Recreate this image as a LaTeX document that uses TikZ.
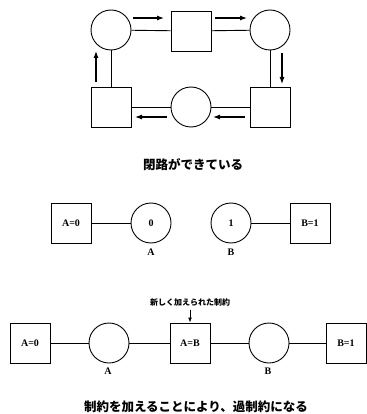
\documentclass[tikz,border=0pt]{standalone}
\usepackage{fontspec}
\setmainfont{Liberation Serif}
\newfontfamily\jpfont{Noto Sans CJK JP}
\usetikzlibrary{arrows.meta}
\begin{document}
\begin{tikzpicture}[x=1pt,y=-1pt,
  line width=0.9pt,
  var/.style={draw,circle,minimum size=40pt,inner sep=0pt,font=\bfseries\fontsize{10}{10}\selectfont},
  con/.style={draw,rectangle,minimum width=40pt,minimum height=40pt,inner sep=0pt,font=\bfseries\fontsize{10}{10}\selectfont},
  lbl/.style={font=\bfseries\fontsize{10}{10}\selectfont},
  captext/.style={font=\jpfont\bfseries\fontsize{12.5}{12.5}\selectfont},
  flow/.style={-{Latex[length=7pt,width=5pt]},line width=1.1pt}]
\useasboundingbox (0,0) rectangle (366,414);

% --- closed loop ---
\node[var] (c1) at (111,30) {};
\node[con] (s1) at (191,31) {};
\node[var] (c2) at (270,30) {};
\node[con] (s2) at (270,107) {};
\node[var] (c3) at (191,107) {};
\node[con] (s3) at (111,107) {};
\draw (c1) -- (s1);
\draw (s1) -- (c2);
\draw (c2) -- (s2);
\draw (s2) -- (c3);
\draw (c3) -- (s3);
\draw (s3) -- (c1);

\coordinate (f1a) at (133,18);  \coordinate (f1b) at (164,18);
\coordinate (f2a) at (215,18);  \coordinate (f2b) at (247,18);
\coordinate (f3a) at (282,53);  \coordinate (f3b) at (282,84);
\coordinate (f4a) at (245,117); \coordinate (f4b) at (213,117);
\coordinate (f5a) at (167,117); \coordinate (f5b) at (135,117);
\coordinate (f6a) at (96,82);   \coordinate (f6b) at (96,51);
\draw[flow] (f1a) -- (f1b);
\draw[flow] (f2a) -- (f2b);
\draw[flow] (f3a) -- (f3b);
\draw[flow] (f4a) -- (f4b);
\draw[flow] (f5a) -- (f5b);
\draw[flow] (f6a) -- (f6b);

\node[captext] (cap1) at (193,165) {閉路ができている};

% --- two separate constraints ---
\node[con] (ma0) at (71,223) {A=0};
\node[var] (mva) at (151,223) {0};
\node[var] (mvb) at (231,223) {1};
\node[con] (mb1) at (310,223) {B=1};
\draw (ma0) -- (mva);
\draw (mvb) -- (mb1);
\node[lbl] (mla) at (151,252) {A};
\node[lbl] (mlb) at (231,252) {B};

% --- added constraint ---
\node[con] (ba0) at (30,343) {A=0};
\node[var] (bva) at (109,343) {};
\node[con] (bab) at (190,343) {A=B};
\node[var] (bvb) at (269,343) {};
\node[con] (bb1) at (346,343) {B=1};
\draw (ba0) -- (bva);
\draw (bva) -- (bab);
\draw (bab) -- (bvb);
\draw (bvb) -- (bb1);
\node[lbl] (bla) at (108,371) {A};
\node[lbl] (blb) at (268,371) {B};

\node[font=\jpfont\bfseries\fontsize{8}{8}\selectfont] (note) at (190,302) {新しく加えられた制約};
\draw[-{Latex[length=5pt,width=4pt]},line width=0.9pt] (note.south) -- (bab.north);

\node[captext] (cap2) at (196,407) {制約を加えることにより、過制約になる};
\end{tikzpicture}
\end{document}
